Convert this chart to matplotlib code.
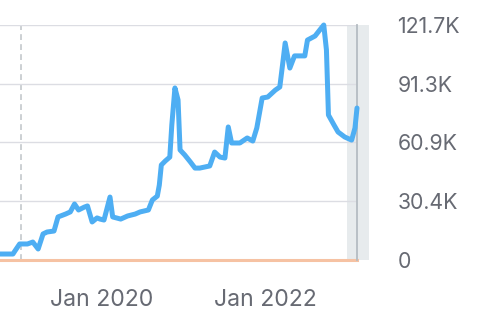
import matplotlib
matplotlib.use("Agg")
import matplotlib.pyplot as plt
import pandas as pd

# valores (em milhares)
datas = [
    "2018-10-01", "2018-11-28", "2018-12-07", "2018-12-28", "2019-02-01", "2019-02-25",
    "2019-03-21", "2019-04-12", "2019-04-30", "2019-05-31", "2019-06-18", "2019-07-22",
    "2019-08-12", "2019-08-31", "2019-09-18", "2019-10-14", "2019-10-28", "2019-11-18",
    "2019-12-10", "2019-12-23", "2020-01-10", "2020-02-06", "2020-02-18", "2020-03-25",
    "2020-04-25", "2020-05-29", "2020-06-20", "2020-07-27", "2020-08-14", "2020-09-05",
    "2020-09-14", "2020-09-23", "2020-10-11", "2020-10-31", "2020-11-09", "2020-11-23",
    "2020-12-07", "2020-12-16", "2021-01-06", "2021-01-31", "2021-02-21", "2021-03-14",
    "2021-04-28", "2021-05-20", "2021-06-13", "2021-07-05", "2021-07-20", "2021-08-04",
    "2021-09-10", "2021-10-13", "2021-11-07", "2021-11-25", "2021-12-19", "2022-01-13",
    "2022-02-16", "2022-03-08", "2022-03-23", "2022-04-01", "2022-04-22", "2022-05-13",
    "2022-06-28", "2022-07-10", "2022-08-13", "2022-09-03", "2022-09-21", "2022-10-03",
    "2022-10-12", "2022-11-06", "2022-11-24", "2022-12-24", "2023-01-24", "2023-02-08",
    "2023-02-17",
]
valores = [
    3.1, 3.1, 4.7, 8.3, 8.3, 9.3,
    5.7, 13.5, 14.5, 15.0, 22.3, 23.8,
    24.9, 29.0, 25.9, 27.4, 28.0, 19.7,
    21.8, 21.2, 20.7, 32.6, 22.3, 21.2,
    22.8, 23.8, 24.9, 25.9, 31.1, 33.1,
    38.8, 49.2, 51.3, 53.3, 69.9, 89.1,
    82.9, 57.0, 54.4, 50.8, 47.6, 47.6,
    48.7, 55.9, 53.3, 52.8, 68.9, 60.6,
    60.6, 63.2, 61.6, 68.4, 83.9, 84.4,
    88.0, 89.6, 103.6, 112.4, 99.4, 105.7,
    105.7, 113.9, 116.0, 119.1, 121.7, 108.8,
    75.1, 69.9, 66.3, 63.7, 62.1, 68.4,
    78.7,
]
ticks_y = [0, 30.4, 60.9, 91.3, 121.7]
rotulos_y = ["0", "30.4K", "60.9K", "91.3K", "121.7K"]
ticks_x = ["2020-01-01", "2022-01-01"]
rotulos_x = ["Jan 2020", "Jan 2022"]
marco = "2019-01-01"
periodo_parcial = ("2023-01-01", "2023-04-11")

cor_texto = "#676a73"
plt.rcParams["font.family"] = ["Inter", "DejaVu Sans"]

fig = plt.figure(figsize=(4.79, 3.27), dpi=100)
ax = fig.add_axes([0, 67 / 327, 357 / 479, 235 / 327])

x = pd.to_datetime(datas)
ax.plot(x, valores, color="#4eaef3", lw=3.6, solid_joinstyle="round",
        solid_capstyle="round", clip_on=False, zorder=4)

ax.set_ylim(0, 121.7)
ax.set_xlim(pd.Timestamp("2018-10-01"), pd.Timestamp("2023-02-17"))

ax.set_yticks(ticks_y)
ax.set_yticklabels(rotulos_y)
ax.set_xticks(pd.to_datetime(ticks_x))
ax.set_xticklabels(rotulos_x)
ax.yaxis.tick_right()
ax.tick_params(axis="y", length=0, pad=29, labelsize=15.3, labelcolor=cor_texto)
ax.tick_params(axis="x", length=0, pad=21, labelsize=16.6, labelcolor=cor_texto)

ax.grid(axis="y", color="#dcdde3", lw=1.0, zorder=0)
for lado in ["top", "left", "bottom"]:
    ax.spines[lado].set_visible(False)
ax.spines["right"].set_color("#b5bcc2")
ax.spines["right"].set_linewidth(1.3)
ax.spines["right"].set_zorder(3)

ax.axvline(pd.Timestamp(marco), color="#c3c8cc", lw=1.2, ls=(0, (3.5, 2.5)), zorder=1)
ax.axhline(0, color="#f6c2a3", lw=2.2, zorder=2, clip_on=False)

faixa = ax.axvspan(pd.Timestamp(periodo_parcial[0]), pd.Timestamp(periodo_parcial[1]),
                   color="#e7ebed", zorder=0.5, lw=0)
faixa.set_clip_on(False)

fig.savefig("out.png", dpi=100)
